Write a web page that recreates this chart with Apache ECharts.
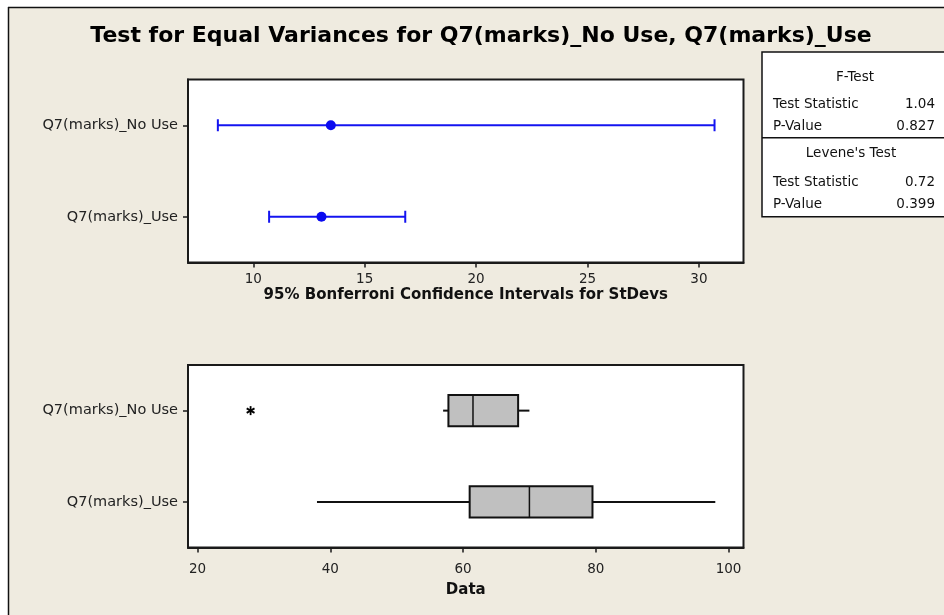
<!DOCTYPE html>
<html>
<head>
<meta charset="utf-8">
<script src="https://cdn.jsdelivr.net/npm/echarts@6/dist/echarts.min.js"></script>
<style>html,body{margin:0;padding:0;background:#fff;}#c{width:944px;height:615px;}</style>
</head>
<body>
<div id="c"></div>
<script>
const categories = ['Q7(marks)_No Use', 'Q7(marks)_Use'];
const ciLower = [8.41, 10.71];
const ciEstimate = [13.48, 13.06];
const ciUpper = [30.70, 16.82];
const ciTicks = [10, 15, 20, 25, 30];
const boxMin = [57.0, 38.0];
const boxQ1 = [57.8, 61.0];
const boxMedian = [61.5, 70.0];
const boxQ3 = [68.3, 79.5];
const boxMax = [70.0, 98.0];
const outlierValues = [28.0];
const outlierCategory = [0];
const dataTicks = [20, 40, 60, 80, 100];
const tableHeaders = ['F-Test', "Levene's Test"];
const testStatistics = ['1.04', '0.72'];
const pValues = ['0.827', '0.399'];

const FONT = 'DejaVu Sans';
const AX = '#1a1a1a';

const chart = echarts.init(document.getElementById('c'), null, {renderer: 'canvas'});

function catAxis(gridIndex) {
  return {
    type: 'category', gridIndex, data: categories, inverse: true,
    axisLine: {show: true, lineStyle: {color: AX, width: 2}},
    axisTick: {show: true, alignWithLabel: true, length: 5, lineStyle: {color: AX, width: 1.5}},
    axisLabel: {margin: 10, fontFamily: FONT, fontSize: 14.5, color: '#222'},
    splitLine: {show: false}
  };
}
function valAxis(gridIndex, min, max, ticks, name, labelMargin, nameGap) {
  return {
    type: 'value', gridIndex, min, max, name, nameLocation: 'middle', nameGap,
    nameTextStyle: {fontFamily: FONT, fontWeight: 'bold', fontSize: 15, color: '#111'},
    axisLine: {show: true, lineStyle: {color: AX, width: 2}},
    axisTick: {show: true, length: 5, customValues: ticks, lineStyle: {color: AX, width: 1.5}},
    axisLabel: {customValues: ticks, margin: labelMargin, fontFamily: FONT, fontSize: 13.5, color: '#222'},
    splitLine: {show: false}
  };
}

const ciData = categories.map((c, i) => [ciLower[i], ciEstimate[i], ciUpper[i], i]);
const boxData = categories.map((c, i) => [boxMin[i], boxQ1[i], boxMedian[i], boxQ3[i], boxMax[i], i]);
const outData = outlierValues.map((v, i) => [v, outlierCategory[i]]);

const option = {
  backgroundColor: '#EFEBE0',
  animation: false,
  grid: [
    {left: 188, top: 79.5, width: 555.5, height: 183, show: true, backgroundColor: '#fff', borderColor: AX, borderWidth: 2},
    {left: 188, top: 365, width: 555.5, height: 182.5, show: true, backgroundColor: '#fff', borderColor: AX, borderWidth: 2}
  ],
  xAxis: [
    valAxis(0, 7.07, 32.0, ciTicks, '95% Bonferroni Confidence Intervals for StDevs', 10, 25),
    valAxis(1, 18.57, 102.25, dataTicks, 'Data', 15, 35)
  ],
  yAxis: [catAxis(0), catAxis(1)],
  series: [
    {
      type: 'custom', xAxisIndex: 0, yAxisIndex: 0, data: ciData,
      encode: {x: [0, 1, 2], y: 3},
      renderItem: function (params, api) {
        const lo = api.coord([api.value(0), api.value(3)]);
        const est = api.coord([api.value(1), api.value(3)]);
        const hi = api.coord([api.value(2), api.value(3)]);
        const st = {stroke: '#1414F0', lineWidth: 2};
        return {type: 'group', children: [
          {type: 'line', shape: {x1: lo[0], y1: lo[1], x2: hi[0], y2: hi[1]}, style: st},
          {type: 'line', shape: {x1: lo[0], y1: lo[1] - 6, x2: lo[0], y2: lo[1] + 6}, style: st},
          {type: 'line', shape: {x1: hi[0], y1: hi[1] - 6, x2: hi[0], y2: hi[1] + 6}, style: st},
          {type: 'circle', shape: {cx: est[0], cy: est[1], r: 5}, style: {fill: '#0A0AF0'}}
        ]};
      }
    },
    {
      type: 'custom', xAxisIndex: 1, yAxisIndex: 1, data: boxData,
      encode: {x: [0, 1, 2, 3, 4], y: 5},
      renderItem: function (params, api) {
        const c = i => api.coord([api.value(i), api.value(5)]);
        const mn = c(0), q1 = c(1), md = c(2), q3 = c(3), mx = c(4);
        const y = mn[1];
        const h = api.size([0, 1])[1] * 0.34;
        const st = {stroke: '#111', lineWidth: 2};
        return {type: 'group', children: [
          {type: 'line', shape: {x1: mn[0], y1: y, x2: q1[0], y2: y}, style: st},
          {type: 'line', shape: {x1: q3[0], y1: y, x2: mx[0], y2: y}, style: st},
          {type: 'rect', shape: {x: q1[0], y: y - h / 2, width: q3[0] - q1[0], height: h}, style: {fill: '#C0C0C0', stroke: '#111', lineWidth: 2}},
          {type: 'line', shape: {x1: md[0], y1: y - h / 2, x2: md[0], y2: y + h / 2}, style: {stroke: '#111', lineWidth: 1.5}}
        ]};
      }
    },
    {
      type: 'custom', xAxisIndex: 1, yAxisIndex: 1, data: outData,
      encode: {x: 0, y: 1},
      renderItem: function (params, api) {
        const p = api.coord([api.value(0), api.value(1)]);
        const r = 4.5, st = {stroke: '#000', lineWidth: 1.8};
        const a = r * 0.87, b = r * 0.5;
        return {type: 'group', children: [
          {type: 'line', shape: {x1: p[0], y1: p[1] - r, x2: p[0], y2: p[1] + r}, style: st},
          {type: 'line', shape: {x1: p[0] - a, y1: p[1] - b, x2: p[0] + a, y2: p[1] + b}, style: st},
          {type: 'line', shape: {x1: p[0] - a, y1: p[1] + b, x2: p[0] + a, y2: p[1] - b}, style: st}
        ]};
      }
    }
  ],
  graphic: [
    {type: 'rect', shape: {x: 0, y: 0, width: 944, height: 7}, style: {fill: '#fff'}, silent: true},
    {type: 'rect', shape: {x: 0, y: 0, width: 8, height: 615}, style: {fill: '#fff'}, silent: true},
    {type: 'line', shape: {x1: 8, y1: 7.5, x2: 944, y2: 7.5}, style: {stroke: '#111', lineWidth: 1.5}},
    {type: 'line', shape: {x1: 8.5, y1: 7, x2: 8.5, y2: 615}, style: {stroke: '#111', lineWidth: 1.5}},
    {type: 'text', x: 481, y: 36, style: {text: 'Test for Equal Variances for Q7(marks)_No Use, Q7(marks)_Use', fontFamily: FONT, fontWeight: 'bold', fontSize: 22, fill: '#000', align: 'center', verticalAlign: 'middle'}},
    {type: 'rect', shape: {x: 762, y: 52, width: 200, height: 164.7}, style: {fill: '#fff', stroke: '#111', lineWidth: 1.5}},
    {type: 'line', shape: {x1: 762, y1: 137.7, x2: 944, y2: 137.7}, style: {stroke: '#111', lineWidth: 1.5}},
    {type: 'text', x: 855, y: 77, style: {text: tableHeaders[0], fontFamily: FONT, fontSize: 13.5, fill: '#111', align: 'center', verticalAlign: 'middle'}},
    {type: 'text', x: 773, y: 104, style: {text: 'Test Statistic', fontFamily: FONT, fontSize: 13.5, fill: '#111', align: 'left', verticalAlign: 'middle'}},
    {type: 'text', x: 935, y: 104, style: {text: testStatistics[0], fontFamily: FONT, fontSize: 13.5, fill: '#111', align: 'right', verticalAlign: 'middle'}},
    {type: 'text', x: 773, y: 126, style: {text: 'P-Value', fontFamily: FONT, fontSize: 13.5, fill: '#111', align: 'left', verticalAlign: 'middle'}},
    {type: 'text', x: 935, y: 126, style: {text: pValues[0], fontFamily: FONT, fontSize: 13.5, fill: '#111', align: 'right', verticalAlign: 'middle'}},
    {type: 'text', x: 851, y: 153, style: {text: tableHeaders[1], fontFamily: FONT, fontSize: 13.5, fill: '#111', align: 'center', verticalAlign: 'middle'}},
    {type: 'text', x: 773, y: 182, style: {text: 'Test Statistic', fontFamily: FONT, fontSize: 13.5, fill: '#111', align: 'left', verticalAlign: 'middle'}},
    {type: 'text', x: 935, y: 182, style: {text: testStatistics[1], fontFamily: FONT, fontSize: 13.5, fill: '#111', align: 'right', verticalAlign: 'middle'}},
    {type: 'text', x: 773, y: 204, style: {text: 'P-Value', fontFamily: FONT, fontSize: 13.5, fill: '#111', align: 'left', verticalAlign: 'middle'}},
    {type: 'text', x: 935, y: 204, style: {text: pValues[1], fontFamily: FONT, fontSize: 13.5, fill: '#111', align: 'right', verticalAlign: 'middle'}}
  ]
};
chart.setOption(option);
</script>
</body>
</html>
